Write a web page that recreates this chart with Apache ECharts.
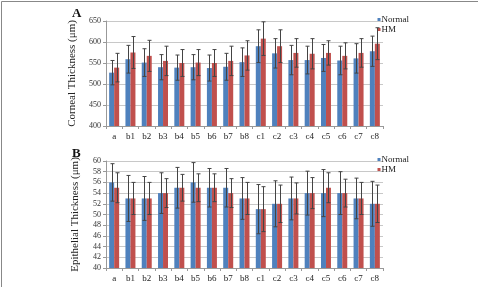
<!DOCTYPE html>
<html>
<head>
<meta charset="utf-8">
<script src="https://cdn.jsdelivr.net/npm/echarts@6/dist/echarts.min.js"></script>
<style>
  html, body { margin: 0; padding: 0; background: #fff; }
  #chart { width: 478px; height: 287px; }
</style>
</head>
<body>
<div id="chart"></div>
<script>
// categories (shared by both panels)
const categories = ['a', 'b1', 'b2', 'b3', 'b4', 'b5', 'b6', 'b7', 'b8', 'c1', 'c2', 'c3', 'c4', 'c5', 'c6', 'c7', 'c8'];

// panel A - corneal thickness
const cornealNormal = [527, 559, 551, 540, 539, 540, 538, 541, 552, 590, 573, 557, 557, 562, 556, 561, 578];
const cornealNormalSd = [29, 33, 33, 30, 30, 30, 31, 32, 34, 39, 35, 35, 33, 32, 34, 35, 36];
const cornealHM = [539, 575, 567, 555, 550, 551, 550, 555, 568, 608, 590, 574, 572, 574, 567, 574, 596];
const cornealHMSd = [34, 38, 37, 35, 32, 31, 32, 35, 35, 40, 39, 34, 36, 29, 31, 34, 38];

// panel B - epithelial thickness
const epiNormal = [56, 53, 53, 54, 55, 56, 55, 55, 53, 51, 52, 53, 54, 54, 54, 53, 52];
const epiNormalSd = [3.5, 4.3, 4.1, 3.8, 3.8, 3.7, 3.6, 3.6, 3.9, 4.6, 4.3, 4.0, 4.1, 4.4, 4.0, 3.8, 4.2];
const epiHM = [55, 53, 53, 54, 55, 55, 55, 54, 53, 51, 52, 53, 54, 55, 54, 53, 52];
const epiHMSd = [2.8, 3.0, 3.0, 2.7, 2.5, 2.6, 2.6, 2.7, 3.0, 4.2, 3.5, 2.9, 2.9, 2.8, 2.6, 3.0, 3.5];

const blue = '#4F81BD';
const red = '#C0504D';
const font = '"Liberation Serif", "DejaVu Serif", serif';
const barW = 5;

const chart = echarts.init(document.getElementById('chart'));

// error bar series drawn on top of a bar series
function errorSeries(grid, vals, sds, offset) {
  return {
    type: 'custom',
    xAxisIndex: grid,
    yAxisIndex: grid,
    z: 5,
    silent: true,
    data: vals.map((v, i) => [i, v - sds[i], v + sds[i]]),
    renderItem: function (params, api) {
      const lo = api.coord([api.value(0), api.value(1)]);
      const hi = api.coord([api.value(0), api.value(2)]);
      const x = Math.round(lo[0] + offset) + 0.5;
      const cap = 2;
      const style = { stroke: '#444', lineWidth: 1 };
      return {
        type: 'group',
        children: [
          { type: 'line', shape: { x1: x, y1: lo[1], x2: x, y2: hi[1] }, style: style },
          { type: 'line', shape: { x1: x - cap, y1: hi[1], x2: x + cap, y2: hi[1] }, style: style },
          { type: 'line', shape: { x1: x - cap, y1: lo[1], x2: x + cap, y2: lo[1] }, style: style }
        ]
      };
    }
  };
}

function xAxis(grid) {
  return {
    type: 'category',
    gridIndex: grid,
    data: categories,
    axisLine: { lineStyle: { color: '#999' } },
    axisTick: { show: true, length: 3, lineStyle: { color: '#999' } },
    axisLabel: { color: '#222', fontFamily: font, fontSize: 9, margin: 6 }
  };
}

function yAxis(grid, name, min, max, step) {
  return {
    type: 'value',
    gridIndex: grid,
    min: min,
    max: max,
    interval: step,
    name: name,
    nameLocation: 'middle',
    nameGap: 25,
    nameTextStyle: { color: '#222', fontFamily: font, fontSize: 11 },
    axisLine: { show: true, lineStyle: { color: '#999' } },
    axisTick: { show: true, length: 3, lineStyle: { color: '#999' } },
    axisLabel: { color: '#333', fontFamily: font, fontSize: 8, margin: 5 },
    splitLine: { lineStyle: { color: '#c8c8c8' } }
  };
}

function barSeries(grid, name, color, vals) {
  return {
    name: name,
    type: 'bar',
    xAxisIndex: grid,
    yAxisIndex: grid,
    barWidth: barW,
    barGap: '0%',
    itemStyle: { color: color },
    data: vals
  };
}

function legend(top) {
  return {
    right: 69, top: top, orient: 'vertical', itemWidth: 3, itemHeight: 3, itemGap: 1,
    padding: 0,
    textStyle: { fontFamily: font, fontSize: 9, color: '#222', padding: [0, 0, 0, -4] },
    data: [{ name: 'Normal', icon: 'rect' }, { name: 'HM', icon: 'rect' }]
  };
}

const option = {
  backgroundColor: '#fff',
  animation: false,
  grid: [
    { left: 106, top: 21, width: 277, height: 105 },
    { left: 106, top: 161, width: 277, height: 107 }
  ],
  legend: [legend(15), legend(155)],
  xAxis: [xAxis(0), xAxis(1)],
  yAxis: [
    yAxis(0, 'Corneal Thickness (μm)', 400, 650, 50),
    yAxis(1, 'Epithelial Thickness (μm)', 40, 60, 2)
  ],
  graphic: [
    { type: 'rect', shape: { x: 1.5, y: 1.5, width: 520, height: 320 }, style: { fill: null, stroke: '#888', lineWidth: 1 } },
    { type: 'text', left: 72, top: 7, style: { text: 'A', font: 'bold 13px ' + font, fill: '#111' } },
    { type: 'text', left: 72, top: 147, style: { text: 'B', font: 'bold 13px ' + font, fill: '#111' } }
  ],
  series: [
    barSeries(0, 'Normal', blue, cornealNormal),
    barSeries(0, 'HM', red, cornealHM),
    barSeries(1, 'Normal', blue, epiNormal),
    barSeries(1, 'HM', red, epiHM),
    errorSeries(0, cornealNormal, cornealNormalSd, -barW / 2),
    errorSeries(0, cornealHM, cornealHMSd, barW / 2),
    errorSeries(1, epiNormal, epiNormalSd, -barW / 2),
    errorSeries(1, epiHM, epiHMSd, barW / 2)
  ]
};

chart.setOption(option);
window.addEventListener('resize', () => chart.resize());
</script>
</body>
</html>
